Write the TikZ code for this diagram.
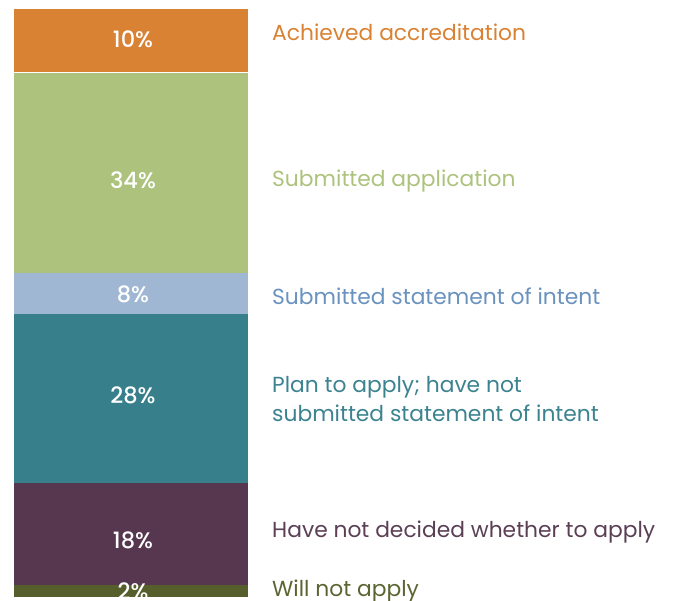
\documentclass[tikz,border=0pt]{standalone}
\usepackage{fontspec}
\setmainfont{Poppins}
\newfontfamily\pctfont{Poppins Medium}
\definecolor{corange}{HTML}{D98233}
\definecolor{cgreen}{HTML}{ADC37D}
\definecolor{cblue}{HTML}{9FB7D3}
\definecolor{cteal}{HTML}{387F8C}
\definecolor{cpurple}{HTML}{56374F}
\definecolor{colive}{HTML}{565E2C}
\definecolor{tblue}{HTML}{6A92BE}
\definecolor{tteal}{HTML}{3C8390}
\definecolor{tpurple}{HTML}{5A3F55}
\definecolor{tolive}{HTML}{5B6532}
\begin{document}
\begin{tikzpicture}[x=1pt,y=-1pt,
  pct/.style={text=white,font=\pctfont\fontsize{22.5}{25}\selectfont,anchor=base,inner sep=0pt},
  lab/.style={font=\fontsize{21.8}{29}\selectfont,anchor=base west,inner sep=0pt,align=left}]
\useasboundingbox (0,0) rectangle (673,601);
\fill[corange] (14,9) rectangle (248,72);
\fill[cgreen] (14,73) rectangle (248,273.5);
\fill[cblue] (14,273.5) rectangle (248,314);
\fill[cteal] (14,314) rectangle (248,483);
\fill[cpurple] (14,483) rectangle (248,585);
\fill[colive] (14,585) rectangle (248,597);
\begin{scope}
\clip (14,9) rectangle (248,597);
\node[pct] (p1) at (133,48) {10\%};
\node[pct] (p2) at (133,189) {34\%};
\node[pct] (p3) at (133,303) {8\%};
\node[pct] (p4) at (133,404) {28\%};
\node[pct] (p5) at (133,549) {18\%};
\node[pct] (p6) at (133,600) {2\%};
\end{scope}
\node[lab,text=corange] (l1) at (272,41) {Achieved accreditation};
\node[lab,text=cgreen] (l2) at (272,187) {Submitted application};
\node[lab,text=tblue] (l3) at (272,305) {Submitted statement of intent};
\node[lab,text=tteal] (l4) at (272,422) {Plan to apply; have not\\submitted statement of intent};
\node[lab,text=tpurple] (l5) at (272,538) {Have not decided whether to apply};
\node[lab,text=tolive] (l6) at (272,597) {Will not apply};
\end{tikzpicture}
\end{document}
